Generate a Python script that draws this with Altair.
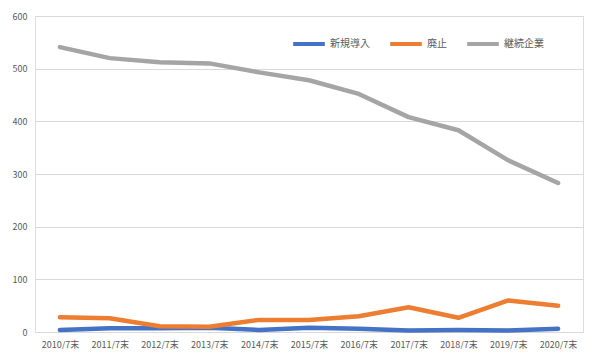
import altair as alt
import pandas as pd

years = ["2010/7末", "2011/7末", "2012/7末", "2013/7末", "2014/7末", "2015/7末",
         "2016/7末", "2017/7末", "2018/7末", "2019/7末", "2020/7末"]
series_names = ["新規導入", "廃止", "継続企業"]
new_intro = [4, 7, 7, 8, 4, 8, 6, 3, 4, 3, 6]
abolished = [28, 26, 11, 10, 23, 23, 30, 47, 27, 60, 50]
continuing = [541, 520, 512, 510, 493, 478, 452, 408, 383, 326, 283]
colors = ["#4472C4", "#ED7D31", "#A5A5A5"]

rows = []
for name, vals in zip(series_names, [new_intro, abolished, continuing]):
    for i, (y, v) in enumerate(zip(years, vals)):
        rows.append({"year": y, "series": name, "value": v, "order": series_names.index(name)})
df = pd.DataFrame(rows)

font = "Noto Sans CJK JP"

chart = alt.Chart(df).mark_line(strokeWidth=4.5, strokeCap="round", strokeJoin="round").encode(
    x=alt.X("year:N", sort=years, title=None,
            scale=alt.Scale(type="point", padding=0.5),
            axis=alt.Axis(labelAngle=0, domain=False, ticks=False, grid=False,
                          labelFont=font, labelFontSize=9, labelColor="#595959",
                          labelPadding=8)),
    y=alt.Y("value:Q", title=None,
            scale=alt.Scale(domain=[0, 600], nice=False),
            axis=alt.Axis(values=[0, 100, 200, 300, 400, 500, 600], domain=False, ticks=False,
                          gridColor="#D9D9D9", gridWidth=1,
                          labelFont=font, labelFontSize=9, labelColor="#595959",
                          labelPadding=8)),
    color=alt.Color("series:N", sort=series_names,
                    scale=alt.Scale(domain=series_names, range=colors),
                    legend=alt.Legend(title=None, orient="none", direction="horizontal",
                                      legendX=256, legendY=10,
                                      symbolType="stroke", symbolStrokeWidth=4,
                                      symbolSize=1000, labelFont=font, labelFontSize=10,
                                      labelColor="#595959", columnPadding=12,
                                      labelOffset=3)),
    detail="series:N",
    order="order:Q",
).properties(
    width=548, height=316, padding={"left": 4, "top": 4, "right": 4, "bottom": 0}
).configure_view(stroke=None).configure(background="white")

chart.save("out.html", embed_options={"renderer": "svg", "actions": False})
